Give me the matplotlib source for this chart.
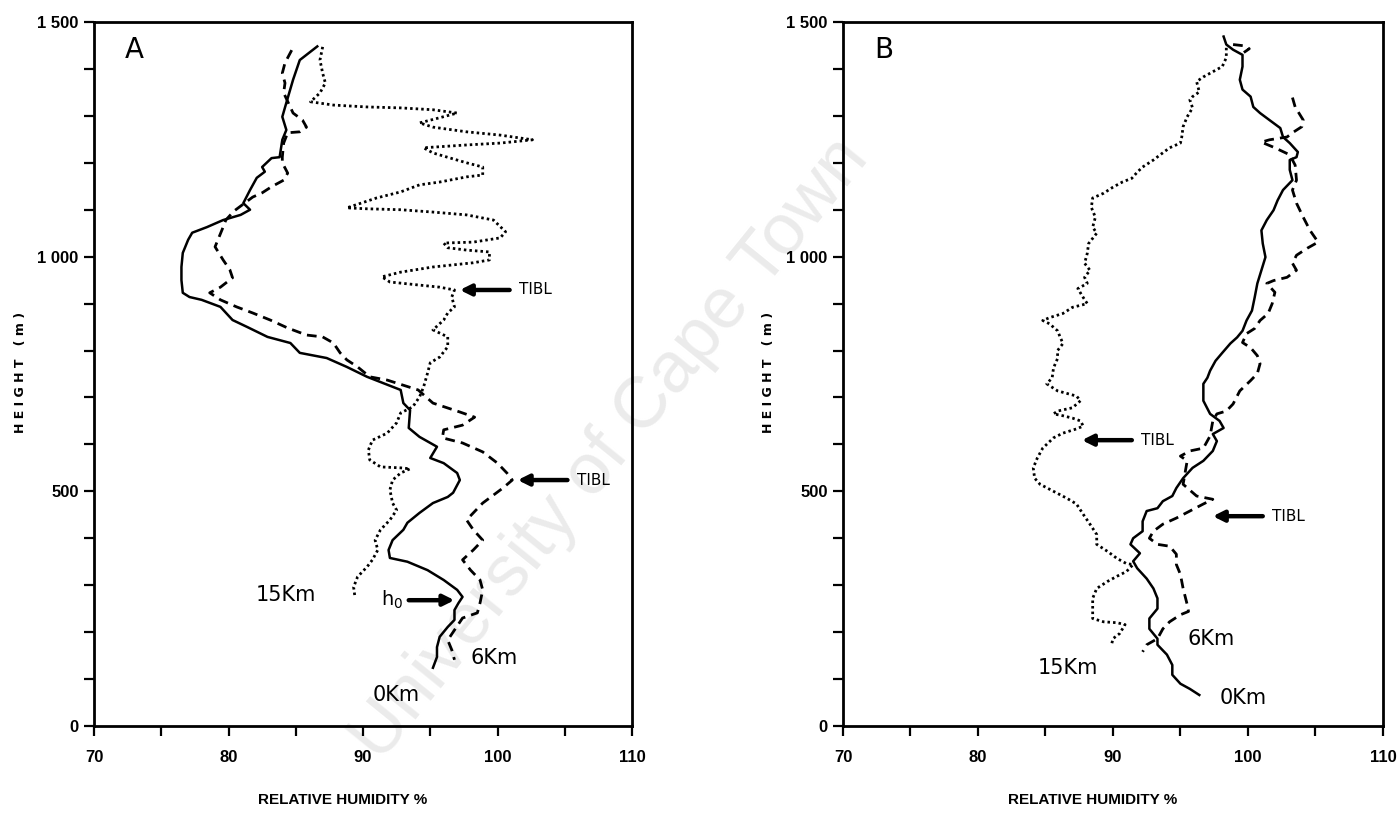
import numpy as np
import matplotlib
matplotlib.use("Agg")
import matplotlib.pyplot as plt
from matplotlib.ticker import FixedLocator, FuncFormatter

nan = float("nan")

# ---- panel A : relative humidity (%) vs height (m) ----
a_rh_0km = [86.6, 85.3, 84.8, 84.3, 84.0, 84.3, 84.0, 83.8, 83.2, 82.5, 82.7, 82.1, 81.6, 81.1, 81.6,
            80.9, 79.6, 78.4, 77.3, 77.0, 76.6, 76.5, 76.5, 76.6, 77.1, 78.0, 79.4, 80.3, 81.4, 82.9,
            84.6, 85.3, 87.3, 88.8, 90.3, 92.8, 93.0, 93.5, 93.4, 94.2, 95.5, 95.0, 96.0, 97.0, 97.2,
            96.7, 96.3, 95.2, 94.2, 93.3, 93.0, 92.2, 91.9, 92.0, 93.3, 94.8, 96.0, 97.0, 97.4, 97.1,
            96.8, 96.8, 96.3, 95.7, 95.5, 95.5, 95.2]
a_h_0km = [1448, 1419, 1377, 1328, 1298, 1270, 1249, 1212, 1210, 1191, 1181, 1168, 1142, 1114, 1100,
           1089, 1078, 1063, 1051, 1036, 1008, 978, 950, 923, 914, 908, 893, 865, 850, 829,
           816, 795, 784, 765, 744, 716, 688, 673, 635, 616, 595, 571, 560, 539, 524,
           497, 488, 475, 454, 433, 418, 396, 375, 358, 350, 332, 311, 290, 275, 262,
           247, 226, 211, 190, 168, 147, 124]

a_rh_6km = [84.7, 84.2, 84.0, 84.2, 84.1, 84.8, 85.5, 85.8, 85.3, 84.4, 84.1, 84.0, 84.0, 84.2, 84.4,
            84.1, 83.2, 82.5, 81.8, 80.4, 79.8, 79.6, 79.0, 79.6, 80.1, 80.3, 79.4, 78.6, 79.4, 80.6,
            81.8, 83.1, 84.4, 85.8, 87.0, 87.8, 88.3, 88.8, 89.6, 90.5, 91.8, 94.1, 95.2, 97.2, 98.3,
            97.4, 96.0, 95.9, 97.4, 98.9, 100.0, 100.7, 101.1, 100.4, 99.7, 98.9, 97.7, 98.2, 98.9, 98.2,
            97.4, 98.0, 98.7, 98.9, 98.7, 98.5, 97.4, 96.3, 96.6, 96.8]
a_h_6km = [1440, 1413, 1391, 1370, 1349, 1306, 1291, 1276, 1266, 1264, 1242, 1212, 1200, 1189, 1178,
           1163, 1149, 1136, 1127, 1097, 1078, 1063, 1021, 993, 972, 955, 935, 923, 908, 893,
           880, 865, 848, 833, 829, 816, 795, 780, 765, 744, 737, 716, 688, 669, 658,
           641, 631, 614, 603, 584, 560, 539, 524, 507, 492, 475, 439, 418, 396, 375,
           354, 332, 311, 290, 262, 241, 230, 183, 162, 141]

a_rh_15km = [87.0, 86.8, 87.0, 87.2, 86.8, 86.1, 87.8, 90.3, 92.8, 95.2, 97.0, 95.7, 94.2, 95.2, 97.7,
             100.2, 102.6, 100.2, 97.7, 94.5, 95.2, 96.5, 97.7, 98.9, 98.9, 97.7, 95.7, 94.2, 92.8, 91.0,
             88.8, 90.3, 92.8, 95.2, 97.7, 99.7, 100.6, 100.2, 98.2, 96.0, 96.3, 97.7, 99.4, 99.4, 98.2,
             95.2, 92.8, 91.4, 92.0, 94.0, 95.7, 96.8, 96.6, 96.8, 96.3, 96.0, 95.2, 96.3, 96.3, 95.7,
             95.0, 94.8, 94.5, 94.2, 93.7, 92.8, 92.5, 91.8, 90.7, 90.4, 90.5, 91.3, 92.8, 93.5, 92.8,
             92.2, 92.0, 92.2, 92.5, 92.0, 91.3, 90.9, 91.1, 90.7, 90.3, 89.6, 89.3, 89.4]
a_h_15km = [1447, 1419, 1391, 1370, 1349, 1330, 1323, 1319, 1317, 1313, 1306, 1296, 1285, 1276, 1266,
            1259, 1249, 1242, 1238, 1232, 1221, 1210, 1200, 1191, 1174, 1170, 1159, 1153, 1138, 1125,
            1104, 1102, 1100, 1095, 1089, 1078, 1053, 1040, 1031, 1029, 1019, 1014, 1010, 993, 987,
            978, 967, 957, 946, 940, 935, 929, 914, 893, 880, 865, 844, 829, 808, 786,
            774, 752, 722, 701, 680, 667, 646, 624, 609, 588, 567, 552, 550, 548, 539,
            524, 503, 475, 460, 439, 418, 396, 375, 354, 339, 318, 296, 275]

# ---- panel B ----
b_rh_0km = [98.2, 98.4, 98.9, 99.6, 99.6, 99.4, 99.6, 100.2, 100.4, 100.9, 101.6, 102.4, 102.6, 103.1, 103.7,
            103.6, 103.1, 103.1, 103.3, 102.6, 102.2, 101.9, 101.4, 101.0, 101.1, 101.3, 101.0, 100.7, 100.5, 100.3,
            99.9, 99.6, 99.2, 98.7, 98.1, 97.6, 97.2, 97.0, 96.7, 96.7, 97.2, 97.9, 98.2, 97.4, 97.7,
            97.4, 96.7, 95.9, 95.2, 94.7, 94.4, 93.7, 93.3, 92.5, 92.2, 92.2, 91.5, 91.3, 92.0, 91.5,
            91.8, 92.5, 93.0, 93.3, 93.3, 92.7, 92.7, 93.3, 93.3, 94.0, 94.4, 94.4, 95.0, 95.7, 96.4]
b_h_0km = [1469, 1452, 1441, 1430, 1405, 1377, 1356, 1341, 1319, 1306, 1291, 1274, 1255, 1242, 1223,
           1212, 1206, 1185, 1163, 1142, 1120, 1099, 1078, 1056, 1028, 999, 971, 943, 913, 885,
           864, 842, 828, 815, 795, 778, 757, 742, 729, 693, 665, 650, 635, 622, 607,
           586, 565, 550, 528, 507, 490, 479, 464, 458, 436, 415, 400, 387, 368, 351,
           336, 314, 293, 272, 250, 229, 207, 186, 173, 152, 130, 109, 90, 79, 66]

b_rh_6km = [98.9, 99.8, 100.1, 99.7, nan,
            103.3, 103.5, 104.1, 104.0, 103.3, 102.9, 101.6, 101.0, 102.0, 103.1, 103.5, 103.6, 103.3, 103.6, 104.1,
            104.6, 105.2, 104.4, 103.6, 103.3, 103.6, 102.9, 101.9, 101.4, 102.0, 101.8, 101.5, 100.9, 100.5, 99.9,
            99.6, 100.2, 100.7, 100.9, 100.7, 100.2, 99.4, 98.9, 98.4, 97.7, 97.4, 97.2, 96.7, 95.7, 95.0,
            95.5, 95.2, 96.2, 97.4, 96.7, 95.7, 94.7, 93.7, 93.0, 92.7, 93.3, 94.2, 94.7, 94.7, 95.0,
            95.2, 95.5, 95.6, 95.0, 94.2, 93.7, 93.3, 92.5, 92.2]
b_h_6km = [1452, 1449, 1443, 1435, nan,
           1339, 1319, 1291, 1277, 1264, 1255, 1249, 1244, 1232, 1217, 1195, 1163, 1142, 1114, 1084,
           1056, 1031, 1018, 1003, 986, 971, 956, 949, 943, 924, 900, 879, 864, 847, 836,
           817, 806, 789, 772, 751, 736, 714, 686, 671, 665, 650, 618, 592, 586, 575,
           565, 515, 490, 483, 473, 458, 443, 430, 415, 400, 387, 383, 366, 344, 323,
           293, 259, 244, 237, 222, 207, 186, 173, 158]

b_rh_15km = [98.4, 98.4, 98.1, 97.4, 96.7, 96.2, 96.4, 95.9, 95.7, 95.9, 95.5, 95.2, 95.1, 95.0, 94.2,
             93.5, 93.0, 92.2, 91.8, 91.4, 90.7, 90.0, 89.3, 88.5, 88.4, 88.7, 88.5, 88.8, 88.2, 88.1,
             87.9, 88.3, 87.9, 88.1, 87.4, 87.8, 88.1, 87.0, 86.3, 85.3, 84.8, 85.3, 85.9, 86.1, 86.3,
             85.9, 85.9, 85.6, 85.5, 85.1, 85.9, 87.3, 87.6, 87.0, 85.9, 85.6, 86.3, 87.0, 87.6, 87.8,
             87.3, 86.3, 85.6, 84.8, 84.4, 84.1, 84.2, 84.6, 85.6, 86.6, 87.3, 87.8, 88.3, 88.8, 88.8,
             89.6, 90.3, 91.0, 91.5, 91.0, 90.3, 89.6, 88.8, 88.5, 88.5, 88.5, 89.3, 90.3, 90.9, 90.5,
             90.0, 89.9]
b_h_15km = [1445, 1424, 1405, 1394, 1383, 1373, 1351, 1341, 1334, 1317, 1298, 1277, 1255, 1242, 1232,
            1217, 1206, 1191, 1180, 1167, 1159, 1148, 1135, 1125, 1105, 1084, 1063, 1050, 1028, 1007,
            986, 971, 956, 943, 932, 913, 900, 892, 879, 870, 864, 857, 842, 828, 815,
            800, 783, 763, 742, 729, 714, 703, 693, 678, 671, 665, 661, 656, 650, 639,
            633, 624, 614, 592, 571, 550, 528, 515, 500, 485, 473, 451, 430, 408, 387,
            372, 357, 346, 344, 329, 319, 308, 293, 272, 244, 229, 222, 220, 216, 197,
            186, 173]

# annotations: (text, x, y)
a_labels = [("15Km", 82.0, 279), ("6Km", 98.0, 145), ("0Km", 90.7, 66)]
b_labels = [("15Km", 84.4, 124), ("6Km", 95.5, 186), ("0Km", 97.9, 60)]
# arrows: (text, head x, tail x, y)
a_arrows = [("TIBL", 97.2, 100.9, 929), ("TIBL", 101.5, 105.2, 524), ("h$_0$", 96.8, 93.4, 268)]
b_arrows = [("TIBL", 87.7, 91.4, 609), ("TIBL", 97.4, 101.1, 447)]

narrow = ["Liberation Sans", "DejaVu Sans"]

fig = plt.figure(figsize=(13.97, 8.18), dpi=100)
fig.patch.set_facecolor("white")

# watermark behind everything
fig.text(0.437, 0.45, "University of Cape Town", rotation=51, fontsize=52,
         color="#ebebeb", family=["Liberation Sans", "DejaVu Sans"],
         ha="center", va="center", zorder=-5)


def yfmt(v, pos):
    v = int(v)
    if v >= 1000:
        return "%d %03d" % (v // 1000, v % 1000)
    return str(v)


def setup(ax):
    ax.set_facecolor("none")
    ax.set_xlim(70, 110)
    ax.set_ylim(0, 1500)
    for s in ax.spines.values():
        s.set_linewidth(2)
    ax.xaxis.set_major_locator(FixedLocator([70, 80, 90, 100, 110]))
    ax.xaxis.set_minor_locator(FixedLocator([75, 85, 95, 105]))
    ax.yaxis.set_major_locator(FixedLocator([0, 500, 1000, 1500]))
    ax.yaxis.set_minor_locator(FixedLocator(np.arange(100, 1500, 100)))
    ax.yaxis.set_major_formatter(FuncFormatter(yfmt))
    ax.tick_params(which="both", direction="out", length=7, width=1.6)
    ax.tick_params(axis="x", pad=10)
    ax.tick_params(axis="y", pad=4)
    for lab in ax.get_xticklabels() + ax.get_yticklabels():
        lab.set_family(narrow)
        lab.set_fontweight("bold")
        lab.set_fontsize(12)


def draw(ax, rh0, h0, rh6, h6, rh15, h15, labels, arrows, letter):
    setup(ax)
    ax.plot(rh0, h0, color="black", lw=1.8, solid_joinstyle="round")
    ax.plot(rh6, h6, color="black", lw=2.0, linestyle=(0, (3.5, 2.2)))
    ax.plot(rh15, h15, color="black", lw=2.0, linestyle=(0, (0.9, 1.1)))
    ax.text(72.3, 1470, letter, fontsize=20, ha="left", va="top")
    for txt, x, y in labels:
        ax.text(x, y, txt, fontsize=15, ha="left", va="center")
    for txt, hx, tx, y in arrows:
        ax.annotate("", xy=(hx, y), xytext=(tx, y),
                    arrowprops=dict(arrowstyle="-|>", lw=3.2, color="black",
                                    mutation_scale=16, shrinkA=0, shrinkB=0))
        if hx < tx:
            ax.text(tx + 0.7, y, txt, fontsize=11, ha="left", va="center")
        else:
            ax.text(tx - 0.4, y, txt, fontsize=14, ha="right", va="center")


ax1 = fig.add_axes([0.0673, 0.1125, 0.3851, 0.8606])
ax2 = fig.add_axes([0.6034, 0.1125, 0.3865, 0.8606])

draw(ax1, a_rh_0km, a_h_0km, a_rh_6km, a_h_6km, a_rh_15km, a_h_15km, a_labels, a_arrows, "A")
draw(ax2, b_rh_0km, b_h_0km, b_rh_6km, b_h_6km, b_rh_15km, b_h_15km, b_labels, b_arrows, "B")

for xc in [0.245, 0.782]:
    fig.text(xc, 0.022, "RELATIVE HUMIDITY %", family=narrow, fontweight="bold",
             fontsize=11, ha="center", va="center")
for xl in [0.015, 0.550]:
    fig.text(xl, 0.545, "H E I G H T   ( m )", rotation=90, fontweight="bold",
             fontsize=9, ha="center", va="center")

fig.savefig("out.png", dpi=100)
